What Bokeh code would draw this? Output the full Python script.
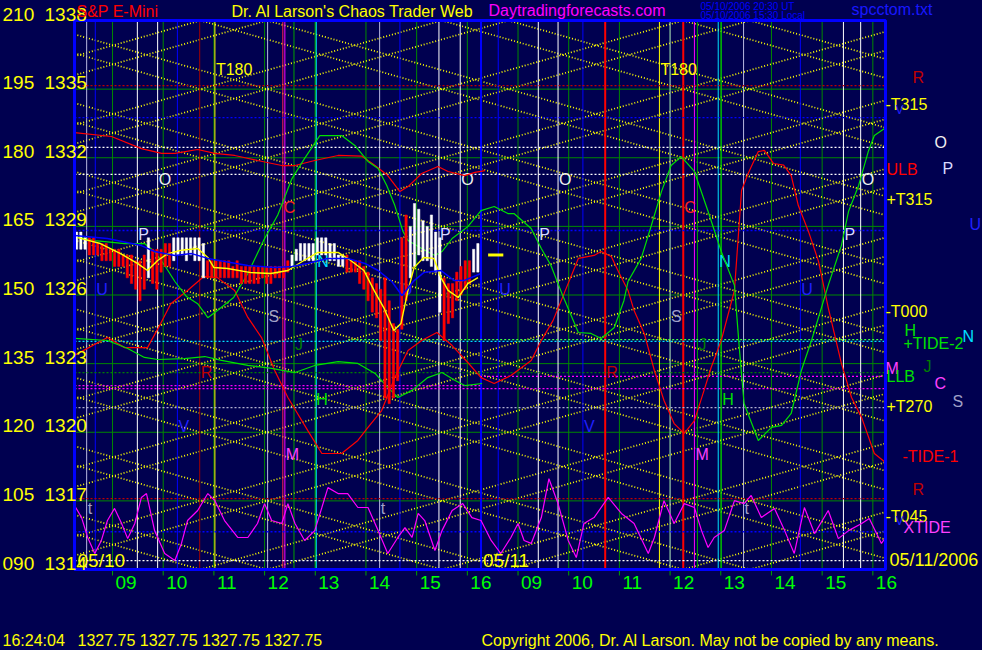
from bokeh.plotting import figure
from bokeh.models import Range1d, Label
from bokeh.core.properties import value
from bokeh.embed import file_html
from bokeh.resources import INLINE

FONT = "Liberation Sans"
NAVY = "#000050"

# ====================== DATA ======================
# time axis: trading hours counted from 05/10 08:15 (05/10 -> 0..8, 05/11 -> 8..16)
T_LO, T_HI = 0.0, 16.0
hour_ticks = [0.75, 1.75, 2.75, 3.75, 4.75, 5.75, 6.75, 7.75,
              8.75, 9.75, 10.75, 11.75, 12.75, 13.75, 14.75, 15.75]
hour_labels = ["09", "10", "11", "12", "13", "14", "15", "16",
               "09", "10", "11", "12", "13", "14", "15", "16"]
day_start = [0.0, 8.0]
day_names = ["05/10", "05/11"]

price_levels = [1314, 1317, 1320, 1323, 1326, 1329, 1332, 1335, 1338]
tide_codes = ["090", "105", "120", "135", "150", "165", "180", "195", "210"]
P_LO, P_HI = price_levels[0], price_levels[-1]

# event (vertical) lines and their letters
ev_time = [0.24, 0.41, 1.24, 1.64, 2.03, 2.47, 2.77, 3.81, 4.11, 4.15, 4.33, 4.75, 4.77,
           6.02, 6.42, 7.19, 7.61, 8.02,
           8.36, 9.15, 9.54, 10.03, 10.47, 11.54, 11.75, 12.01, 12.23, 12.29, 12.70, 12.76,
           13.20, 14.32, 15.17, 15.51]
ev_color = ["#B8B8E0", "#0000FF", "#FFFFFF", "#FFFFFF", "#0000FF", "#A00000", "#FFFF00",
            "#B8B8E0", "#FF2050", "#FF00FF", "#00A000", "#00A000", "#00E0FF",
            "#B8B8E0", "#0000FF", "#FFFFFF", "#FFFFFF", "#0000FF",
            "#0000FF", "#FFFFFF", "#FFFFFF", "#0000FF", "#FF0000", "#FFFF00", "#B8B8E0",
            "#FF0000", "#FF00FF", "#00A000", "#00E0FF", "#00D000",
            "#B8B8E0", "#0000FF", "#FFFFFF", "#FFFFFF"]
ev_width = [1, 1, 1, 1, 1, 1, 1, 1, 1, 1, 1, 1, 1,
            1, 1, 1, 1, 2,
            1, 1, 1, 1, 2, 1, 1, 2, 1, 1, 1, 1,
            1, 1, 1, 1]
ev_letter = ["t", "U", "P", "O", "V", "R", "T180", "S", "C", "M", "J", "H", "N",
             "t", "U", "P", "O", "",
             "U", "P", "O", "V", "R", "T180", "S", "C", "M", "J", "N", "H",
             "t", "U", "P", "O"]
letter_level = {"t": 1316.67, "U": 1326.24, "P": 1328.64, "O": 1331.05, "V": 1320.25,
                "R": 1322.61, "T180": 1335.84, "S": 1325.06, "C": 1329.82, "M": 1319.03,
                "J": 1323.84, "H": 1321.43, "N": 1327.46}
letter_color = {"t": "#A0A0C8", "U": "#2020FF", "P": "#D8D8FF", "O": "#F0F0F0", "V": "#2020FF",
                "R": "#C00000", "T180": "#FFFF00", "S": "#A0A0C8", "C": "#FF2020", "M": "#FF40FF",
                "J": "#008000", "H": "#00E000", "N": "#00E0FF"}

# dotted horizontal levels
hl_level = [1314.39, 1315.65, 1317.10, 1321.08, 1321.91, 1322.04, 1322.44, 1322.61,
            1323.97, 1324.05, 1328.82, 1331.27, 1332.45, 1333.75, 1335.15]
hl_start = [0, 0, 0, 0, 0, 0, 8, 0, 0, 5.4, 0, 0, 0, 0, 0]
hl_end = [16, 16, 16, 16, 16, 8, 16, 16, 16, 16, 16, 16, 16, 16, 16]
hl_color = ["#FFFFFF", "#0000FF", "#C00000", "#B0B0D0", "#FF00FF", "#FF00FF", "#FF00FF",
            "#008000", "#00E0FF", "#40FF40", "#0000FF", "#FFFFFF", "#FFFFFF", "#0000FF", "#C00000"]

# price-time vectors (yellow dotted), pivoting at each day's noon
vector_centers = [3.80, 12.01]
vector_levels = [1305, 1308, 1311, 1314, 1317, 1320, 1323, 1326, 1329, 1332, 1335, 1338,
                 1341, 1344, 1347]
vector_rate = 0.63  # points per hour

# 5-minute price bars on 05/10
bar_hi = [1328.75, 1328.75, 1328.5, 1328.5, 1328.5, 1328.25, 1328.25, 1328.25, 1328.0, 1328.0,
          1328.0, 1327.75, 1327.75, 1327.75, 1327.5, 1327.5, 1327.75, 1328.5, 1328.0, 1328.0,
          1328.0, 1328.25, 1328.25, 1328.5, 1328.5, 1328.5, 1328.5, 1328.5, 1328.5, 1328.5,
          1328.25, 1327.5, 1327.5, 1327.5, 1327.5, 1327.5, 1327.5, 1327.25, 1327.5, 1327.25,
          1327.25, 1327.25, 1327.25, 1327.25, 1327.25, 1327.25, 1327.25, 1327.25, 1327.25, 1327.25,
          1327.5, 1327.75, 1328.0, 1328.25, 1328.25, 1328.25, 1328.25, 1328.5, 1328.5, 1328.5,
          1328.25, 1328.25, 1327.75, 1327.75, 1327.75, 1327.5, 1327.5, 1327.5, 1327.25, 1327.0,
          1326.75, 1326.5, 1326.25, 1326.75, 1325.75, 1324.75, 1324.5, 1328.5, 1329.5, 1329.0,
          1330.0, 1329.75, 1329.25, 1329.0, 1329.5, 1328.75, 1328.5, 1326.75, 1326.5, 1326.5,
          1327.0, 1327.25, 1327.5, 1327.5, 1328.0, 1328.25]
bar_lo = [1328.0, 1328.0, 1328.0, 1327.75, 1327.75, 1327.75, 1327.5, 1327.5, 1327.5, 1327.25,
          1327.25, 1327.25, 1326.75, 1326.5, 1326.25, 1325.75, 1326.25, 1326.75, 1326.5, 1326.25,
          1327.0, 1327.25, 1327.25, 1327.5, 1327.75, 1327.75, 1327.5, 1327.75, 1327.5, 1327.5,
          1326.75, 1326.75, 1326.75, 1326.75, 1326.75, 1326.75, 1326.75, 1326.75, 1326.75, 1326.5,
          1326.5, 1326.5, 1326.5, 1326.5, 1326.75, 1326.5, 1326.5, 1326.75, 1326.75, 1326.75,
          1327.0, 1327.25, 1327.5, 1327.5, 1327.5, 1327.5, 1327.5, 1327.75, 1327.75, 1327.75,
          1327.5, 1327.5, 1327.25, 1327.25, 1327.0, 1327.0, 1327.0, 1326.5, 1326.25, 1325.75,
          1325.25, 1325.0, 1324.0, 1321.5, 1321.25, 1321.5, 1322.25, 1324.5, 1325.75, 1326.75,
          1327.25, 1327.75, 1327.5, 1327.5, 1327.25, 1327.0, 1325.25, 1324.0, 1324.75, 1325.0,
          1325.75, 1326.0, 1326.25, 1326.5, 1327.0, 1327.0]
bar_kind = ("WWW" + "RRRRRRRRRRRRRR" + "W" + "RRRRR" + "WWWWWWWW" + "RRRRRRRRRRRRRRRRRRRR"
            + "WWWWWWWWWWWWW" + "RRRRRRRRRRRRRRR" + "WWWWWWWW" + "RRRRRRR" + "WW")
last_price = 1327.75
last_time = "16:24:04"
last_mark = [8.16, 8.46]

# fast average (yellow)
ya_t = [0.06, 0.51, 0.91, 1.24, 1.44, 1.64, 1.84, 2.09, 2.43, 2.63, 2.75, 3.02, 3.48, 3.87, 4.21,
        4.46, 4.80, 5.20, 5.45, 5.71, 5.91, 6.10, 6.30, 6.44, 6.58, 6.70, 6.89, 7.09, 7.23, 7.37,
        7.57, 7.76, 7.96]
ya_p = [1328.51, 1328.25, 1327.81, 1327.38, 1327.07, 1327.51, 1327.81, 1327.95, 1328.03, 1327.64,
        1327.20, 1327.16, 1326.98, 1326.94, 1327.07, 1327.42, 1327.86, 1327.86, 1327.51, 1327.07,
        1326.20, 1325.45, 1324.45, 1324.75, 1326.20, 1327.20, 1327.64, 1327.60, 1326.76, 1326.20,
        1325.89, 1326.50, 1326.76]
# slow average (blue)
bl_t = [0, 0.65, 1.32, 1.58, 1.98, 2.31, 2.63, 2.96, 3.42, 3.95, 4.29, 4.60, 5.00, 5.39, 5.73,
        5.99, 6.26, 6.46, 6.70, 6.89, 7.23, 7.49, 7.68, 8.02]
bl_p = [1328.60, 1328.47, 1328.16, 1327.90, 1327.73, 1327.81, 1327.60, 1327.46, 1327.29, 1327.20,
        1327.25, 1327.38, 1327.60, 1327.60, 1327.38, 1327.07, 1326.59, 1325.98, 1326.63, 1326.98,
        1327.07, 1326.63, 1326.63, 1326.94]
# upper red forecast (05/10)
ru_t = [0, 0.73, 1.32, 1.72, 1.98, 2.43, 2.77, 3.16, 3.61, 4.09, 4.35, 4.74, 5.20, 5.67, 5.93,
        6.18, 6.42, 6.58, 6.85, 7.17, 7.37, 7.70, 7.90, 8.10]
ru_p = [1333.10, 1332.93, 1332.40, 1332.19, 1332.19, 1332.36, 1332.19, 1332.10, 1331.88, 1331.66,
        1331.66, 1331.88, 1332.10, 1332.07, 1331.66, 1331.22, 1330.52, 1330.74, 1331.31, 1331.62,
        1331.40, 1331.22, 1331.36, 1331.44]
# lower red forecast (TIDE-1)
rl_t = [0, 0.65, 0.99, 1.44, 1.70, 1.90, 2.23, 2.55, 2.82, 3.16, 3.42, 3.69, 3.95, 4.21, 4.60,
        4.88, 5.27, 5.59, 5.79, 6.06, 6.32, 6.58, 6.85, 7.15, 7.45, 7.76, 8.02, 8.28, 8.61, 9.01,
        9.21, 9.44, 9.66, 9.94, 10.25, 10.39, 10.59, 10.73, 10.92, 11.04, 11.24, 11.44, 11.63,
        11.83, 12.03, 12.23, 12.42, 12.56, 12.76, 13.02, 13.16, 13.29, 13.49, 13.61, 13.79,
        13.99, 14.14, 14.28, 14.48, 14.68, 14.87, 15.13, 15.33, 15.53, 15.78, 16.0]
rl_p = [1323.36, 1324.14, 1323.70, 1323.70, 1324.75, 1325.62, 1326.20, 1326.81, 1326.76, 1326.20,
        1325.02, 1324.14, 1322.70, 1321.52, 1320.08, 1319.07, 1319.07, 1319.64, 1320.21, 1320.95,
        1322.39, 1323.57, 1324.01, 1324.36, 1323.79, 1323.05, 1322.39, 1322.13, 1322.48, 1323.14,
        1324.01, 1324.88, 1326.07, 1327.60, 1327.73, 1327.90, 1327.68, 1327.03, 1326.20, 1325.32,
        1324.32, 1322.70, 1321.39, 1320.38, 1319.95, 1320.51, 1321.83, 1322.83, 1324.01, 1326.20,
        1330.57, 1331.31, 1332.27, 1332.32, 1331.75, 1331.68, 1331.22, 1329.91, 1328.78, 1327.46,
        1325.45, 1323.01, 1321.52, 1320.64, 1319.07, 1318.68]
# green forecast (TIDE-2)
ga_t = [0, 0.40, 0.99, 1.38, 1.58, 1.78, 1.98, 2.21, 2.43, 2.63, 2.82, 3.14, 3.42, 3.73, 4.01,
        4.29, 4.54, 4.84, 5.27, 5.53, 5.79, 5.99, 6.16, 6.32, 6.48, 6.58, 6.85, 7.11, 7.25, 7.45,
        7.76, 8.02, 8.28, 8.55, 8.67, 9.01, 9.21, 9.40, 9.64, 9.94, 10.19, 10.39, 10.65, 10.84,
        10.92, 11.18, 11.38, 11.58, 11.77, 11.97, 12.23, 12.50, 12.76, 13.02, 13.12, 13.21, 13.49,
        13.75, 13.95, 14.14, 14.34, 14.54, 14.87, 15.13, 15.27, 15.47, 15.66, 15.78, 15.98]
ga_p = [1328.56, 1328.38, 1328.25, 1328.25, 1327.90, 1327.29, 1326.59, 1325.93, 1325.62, 1325.01,
        1325.32, 1325.89, 1326.94, 1328.38, 1329.50, 1331.09, 1331.97, 1332.97, 1332.97, 1332.54,
        1331.84, 1331.53, 1330.79, 1329.91, 1328.78, 1328.38, 1328.03, 1327.73, 1327.90, 1328.47,
        1328.99, 1329.69, 1329.87, 1329.56, 1329.56, 1328.91, 1328.03, 1327.29, 1325.93, 1324.36,
        1324.32, 1324.10, 1324.58, 1325.76, 1326.59, 1327.60, 1329.04, 1330.52, 1331.66, 1332.05,
        1331.40, 1329.65, 1327.90, 1326.42, 1323.57, 1321.26, 1319.64, 1320.21, 1320.30, 1320.82,
        1322.70, 1324.01, 1326.42, 1328.16, 1329.65, 1330.79, 1332.27, 1332.97, 1333.28]
# second green (05/10)
gb_t = [0, 0.65, 1.05, 1.38, 1.64, 2.17, 2.57, 2.90, 3.42, 3.89, 4.35, 4.74, 5.20, 5.59, 5.93,
        6.18, 6.38, 6.66, 6.97, 7.25, 7.51, 7.70, 8.04]
gb_p = [1324.10, 1324.01, 1323.66, 1323.27, 1323.18, 1323.22, 1323.31, 1323.14, 1322.92, 1322.79,
        1322.61, 1322.92, 1323.09, 1323.01, 1322.57, 1321.96, 1321.52, 1321.83, 1322.39, 1322.61,
        1322.26, 1322.04, 1322.13]
# XTIDE (magenta)
xt_t = [0, 0.14, 0.26, 0.40, 0.53, 0.65, 0.79, 0.93, 1.05, 1.19, 1.32, 1.42, 1.58, 1.78, 1.98,
        2.11, 2.23, 2.43, 2.63, 2.77, 2.96, 3.22, 3.42, 3.61, 3.75, 3.89, 4.09, 4.21, 4.35, 4.54,
        4.74, 4.88, 5.00, 5.20, 5.39, 5.59, 5.79, 5.99, 6.18, 6.38, 6.52, 6.66, 6.78, 6.91, 7.11,
        7.25, 7.45, 7.66, 7.84,
        8.02, 8.22, 8.41, 8.61, 8.75, 8.87, 9.01, 9.21, 9.36, 9.54, 9.74, 9.90, 10.05, 10.25,
        10.53, 10.79, 11.04, 11.32, 11.44, 11.63, 11.83, 12.03, 12.23, 12.37, 12.50, 12.62, 12.82,
        13.02, 13.21, 13.35, 13.55, 13.81, 14.01, 14.20, 14.40, 14.60, 14.87, 15.07, 15.27, 15.53,
        15.68, 15.92, 16.0]
xt_p = [1316.80, 1316.27, 1315.40, 1314.70, 1315.27, 1316.14, 1316.67, 1316.01, 1315.35, 1316.01,
        1317.15, 1317.32, 1315.70, 1314.70, 1314.39, 1315.14, 1316.14, 1316.58, 1317.32, 1317.01,
        1316.14, 1315.40, 1315.40, 1316.01, 1316.88, 1316.14, 1316.01, 1316.88, 1316.01, 1315.27,
        1315.70, 1316.71, 1317.58, 1317.32, 1317.32, 1316.71, 1316.71, 1315.70, 1314.70, 1315.40,
        1315.83, 1315.40, 1316.45, 1316.14, 1314.83, 1315.70, 1316.58, 1316.88, 1316.27,
        1316.14, 1315.27, 1314.70, 1315.40, 1316.01, 1315.27, 1315.14, 1316.27, 1317.97, 1316.88,
        1315.27, 1314.52, 1316.01, 1316.27, 1317.15, 1316.45, 1316.01, 1314.70, 1315.40, 1317.01,
        1316.01, 1316.88, 1316.71, 1315.70, 1314.96, 1315.40, 1315.70, 1317.01, 1316.88, 1317.24,
        1316.27, 1316.67, 1315.70, 1314.70, 1316.71, 1315.57, 1316.58, 1315.35, 1315.70, 1316.01,
        1316.23, 1315.14, 1315.40]

# right-hand level labels
rl_text = ["R", "-T315", "V", "O", "ULB", "P", "+T315", "U", "-T000", "H", "+TIDE-2", "N", "M",
           "J", "LLB", "C", "S", "+T270", "-TIDE-1", "R", "-T045", "V", "XTIDE"]
rl_level = [1335.51, 1334.33, 1334.07, 1332.67, 1331.49, 1331.53, 1330.17, 1329.08, 1325.28,
            1324.45, 1323.88, 1324.19, 1322.79, 1322.87, 1322.44, 1322.13, 1321.34, 1321.12,
            1318.94, 1317.50, 1316.32, 1316.14, 1315.84]
rl_color = ["#C00000", "#FFFF00", "#2020FF", "#F0F0F0", "#FF0000", "#D8D8FF", "#FFFF00", "#2020FF",
            "#FFFF00", "#00E000", "#00E000", "#00E0FF", "#FF40FF", "#008000", "#00E000", "#FF40FF",
            "#A0A0C8", "#FFFF00", "#FF0000", "#C00000", "#FFFF00", "#2020FF", "#FF40FF"]
rl_px = [912, 885, 895, 934, 886, 942, 886, 969, 885, 904, 903, 962, 885, 923, 886, 934, 952,
         886, 902, 912, 885, 895, 903]

# ====================== FIGURE ======================
W, H = 982, 650
BOX_L, BOX_R, BOX_T, BOX_B = 74, 885, 20, 569      # pixel box of the chart area
px_per_h = (BOX_R - BOX_L) / (T_HI - T_LO)
px_per_pt = (BOX_B - BOX_T) / (P_HI - P_LO)
x_range = Range1d(T_LO - BOX_L / px_per_h, T_HI + (W - BOX_R) / px_per_h)
y_range = Range1d(P_LO - (H - BOX_B) / px_per_pt, P_HI + BOX_T / px_per_pt)

p = figure(width=W, height=H, x_range=x_range, y_range=y_range,
           output_backend="svg", toolbar_location=None,
           x_axis_location=None, y_axis_location=None,
           min_border=0, min_border_left=0, min_border_right=0, min_border_top=0,
           min_border_bottom=0,
           background_fill_color=NAVY, border_fill_color=NAVY, outline_line_color=None)
p.title.visible = False
p.grid.visible = False

# grid: hours and 3-point levels
p.segment(x0=hour_ticks, x1=hour_ticks, y0=[P_LO] * len(hour_ticks), y1=[P_HI] * len(hour_ticks),
          line_color="#008800", line_width=1)
inner = price_levels[1:-1]
p.segment(x0=[T_LO] * len(inner), x1=[T_HI] * len(inner), y0=inner, y1=inner,
          line_color="#008800", line_width=1)
# hour ticks below the box
tick_len = 6 / px_per_pt
p.segment(x0=hour_ticks, x1=hour_ticks, y0=[P_LO] * len(hour_ticks),
          y1=[P_LO - tick_len] * len(hour_ticks), line_color="#00A000", line_width=1)

# price-time vectors, clipped to the chart box
vx0, vy0, vx1, vy1 = [], [], [], []
for c in vector_centers:
    for lv in vector_levels:
        for s in (1, -1):
            g = s * vector_rate
            xa = c + (P_LO - lv) / g
            xb = c + (P_HI - lv) / g
            xs = max(T_LO, min(xa, xb))
            xe = min(T_HI, max(xa, xb))
            if xs < xe:
                vx0.append(xs); vx1.append(xe)
                vy0.append(lv + g * (xs - c)); vy1.append(lv + g * (xe - c))
p.segment(x0=vx0, y0=vy0, x1=vx1, y1=vy1, line_color="#FFFF00", line_dash="1 2",
          line_width=1.7)

# event lines
p.segment(x0=ev_time, x1=ev_time, y0=[P_LO] * len(ev_time), y1=[P_HI] * len(ev_time),
          line_color=ev_color, line_width=ev_width)

# dotted horizontals
p.segment(x0=hl_start, y0=hl_level, x1=hl_end, y1=hl_level, line_color=hl_color,
          line_dash="2 2", line_width=1.3)

# event letters
lt, ly, ltxt, lcol = [], [], [], []
for t, L in zip(ev_time, ev_letter):
    if L:
        lt.append(t)
        ly.append(letter_level[L])
        ltxt.append(L)
        lcol.append(letter_color[L])
p.text(x=lt, y=ly, text=ltxt, text_color=lcol, text_font=value(FONT),
       text_font_size=value("16px"), text_baseline="middle", x_offset=1)

# forecast curves
p.line(ru_t, ru_p, line_color="#FF0000", line_width=1.2)
p.line(rl_t, rl_p, line_color="#FF0000", line_width=1.2)
p.line(gb_t, gb_p, line_color="#00E000", line_width=1.2)
p.line(ga_t, ga_p, line_color="#00E000", line_width=1.2)
p.line(xt_t, xt_p, line_color="#FF00FF", line_width=1.2)

# price bars
bar_time = [(i + 0.5) / 12 for i in range(len(bar_hi))]
bar_color = ["#FFFFFF" if k == "W" else "#FF0000" for k in bar_kind]
p.vbar(x=bar_time, top=bar_hi, bottom=bar_lo, width=0.045, fill_color=bar_color,
       line_color=bar_color, line_width=0.5)
p.line(ya_t, ya_p, line_color="#FFFF00", line_width=1.4)
p.line(bl_t, bl_p, line_color="#0000FF", line_width=1.5)
p.segment(x0=[last_mark[0]], y0=[last_price], x1=[last_mark[1]], y1=[last_price],
          line_color="#FFFF00", line_width=3)

# chart box border
p.quad(left=[T_LO], right=[T_HI], bottom=[P_LO], top=[P_HI], fill_color=None,
       line_color="#0000FF", line_width=3)


# ====================== TEXT ======================
def lab(text, color, x, y, size, xu="screen", yu="screen", xo=0):
    p.add_layout(Label(x=x, y=y, x_units=xu, y_units=yu, text=text, text_color=color,
                       text_font=FONT, text_font_size=f"{size}px", text_baseline="middle",
                       text_align="left", x_offset=xo))


def sy(py):          # page pixel row (text centre) -> screen units (from bottom)
    return H - py


# left scale: text sits just above its level line
lift = 6.5 / px_per_pt
for lv, code in zip(price_levels, tide_codes):
    lab(code, "#FFFF00", 2, lv + lift, 19, yu="data")
    lab(str(lv), "#FFFF00", 44, lv + lift, 19, yu="data")

# hour labels and dates
for h, s in zip(hour_ticks, hour_labels):
    lab(s, "#00FF00", h, sy(582), 19, xu="data", xo=3)
for d, s in zip(day_start, day_names):
    lab(s, "#FFFF00", d, sy(560), 19, xu="data", xo=3)
lab("05/11/2006", "#FFFF00", 889, sy(559), 18)

# right labels
for s, lv, col, px in zip(rl_text, rl_level, rl_color, rl_px):
    lab(s, col, px, lv, 12 if s == "V" else 16, yu="data")

# header
lab("S&P E-Mini", "#FF0000", 76, sy(11), 16)
lab("Dr. Al Larson's Chaos Trader Web", "#FFFF00", 231, sy(11), 16)
lab("Daytradingforecasts.com", "#FF00FF", 488, sy(10), 16)
lab("05/10/2006 20:30 UT", "#0000FF", 700, sy(6), 10)
lab("05/10/2006 15:30 Local", "#0000FF", 700, sy(15), 10)
lab("spcctom.txt", "#1818FF", 851, sy(9), 16)

# footer
lab(last_time, "#FFFF00", 2, sy(640), 16)
lab(f"{last_price:.2f} {last_price:.2f} {last_price:.2f} {last_price:.2f}",
    "#FFFF00", 77, sy(640), 16)
lab("Copyright 2006, Dr. Al Larson. May not be copied by any means.", "#FFFF00",
    481, sy(640), 16)

html = file_html(p, INLINE)
html = html.replace("<head>",
                    "<head><style>html,body{background:#000050;overflow:hidden;}</style>", 1)
open("out.html", "w").write(html)
